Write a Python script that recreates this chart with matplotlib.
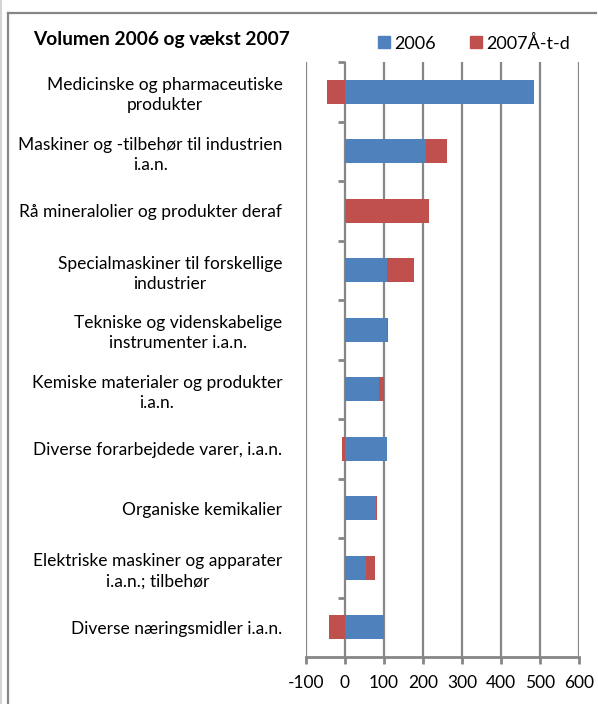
import matplotlib
matplotlib.use("Agg")
import matplotlib.pyplot as plt
import numpy as np
from matplotlib.patches import Rectangle
from matplotlib.lines import Line2D

categories = [
    "Medicinske og pharmaceutiske\nprodukter",
    "Maskiner og -tilbehør til industrien\ni.a.n.",
    "Rå mineralolier og produkter deraf",
    "Specialmaskiner til forskellige\nindustrier",
    "Tekniske og videnskabelige\ninstrumenter i.a.n.",
    "Kemiske materialer og produkter\ni.a.n.",
    "Diverse forarbejdede varer, i.a.n.",
    "Organiske kemikalier",
    "Elektriske maskiner og apparater\ni.a.n.; tilbehør",
    "Diverse næringsmidler i.a.n.",
]
vol_2006 = [485, 207, 2, 107, 107, 88, 108, 79, 53, 100]
vaekst_2007 = [-47, 55, 213, 71, 2, 13, -8, 4, 25, -40]
xticks = [-100, 0, 100, 200, 300, 400, 500, 600]
series_names = ["2006", "2007Å-t-d"]
title = "Volumen 2006 og vækst 2007"

plt.rcParams['font.family'] = ['Lato', 'DejaVu Sans']

BLUE = "#4F81BD"
RED = "#C0504D"
GRID = "#868686"

fig = plt.figure(figsize=(5.98, 7.04), dpi=100)
ax = fig.add_axes([306/598, 1-657/704, (579-306)/598, (657-62)/704])

n = len(categories)
y = np.arange(n)
b = np.array(vol_2006, dtype=float)
r = np.array(vaekst_2007, dtype=float)
r_left = np.where(r >= 0, np.maximum(b, 0), np.minimum(b, 0))

ax.barh(y, b, height=0.4, color=BLUE, zorder=3, label=series_names[0])
ax.barh(y, r, left=r_left, height=0.4, color=RED, zorder=3, label=series_names[1])

ax.set_xlim(xticks[0], xticks[-1])
ax.set_ylim(n - 0.5, -0.5)
ax.set_xticks(xticks)
ax.set_xticklabels([str(t) for t in xticks], fontsize=12.5)
ax.tick_params(axis='x', length=5, width=2, color=GRID, pad=8)
ax.set_yticks(y)
ax.set_yticklabels(categories, fontsize=12.5, multialignment='center', linespacing=1.3)
ax.tick_params(axis='y', length=0, pad=17)

for t in xticks:
    ax.axvline(t, color=GRID, lw=1.6, zorder=1)

for s in ['top', 'right', 'left']:
    ax.spines[s].set_visible(False)
ax.spines['bottom'].set_color(GRID)
ax.spines['bottom'].set_linewidth(2)

# category boundary ticks on the zero axis
bounds = np.arange(n + 1) - 0.5
ax.plot(np.zeros(len(bounds[:-1])), bounds[:-1], linestyle='none', marker=0,
        markersize=5, markeredgewidth=2, color=GRID, zorder=2, clip_on=False)

# title and legend
fig.text(33/598, 1-40/704, title, fontsize=13.8, fontweight='bold', va='center', ha='left')
handles = [Rectangle((0, 0), 1, 1, color=BLUE), Rectangle((0, 0), 1, 1, color=RED)]
fig.legend(handles, series_names, loc='center left', bbox_to_anchor=(371/598, 1-43/704),
           ncol=2, frameon=False, fontsize=13, handlelength=0.65, handleheight=0.65,
           handletextpad=0.25, columnspacing=1.9, borderaxespad=0)

# outer frame
fig.add_artist(Line2D([8/598, 8/598], [0, 1-13/704], transform=fig.transFigure, color=GRID, lw=1.6))
fig.add_artist(Line2D([8/598, 596/598], [1-13/704, 1-13/704], transform=fig.transFigure, color=GRID, lw=1.6))
fig.add_artist(Line2D([1/598, 1/598], [0, 1], transform=fig.transFigure, color="#cccccc", lw=1.2))

fig.savefig("out.png", dpi=100)
